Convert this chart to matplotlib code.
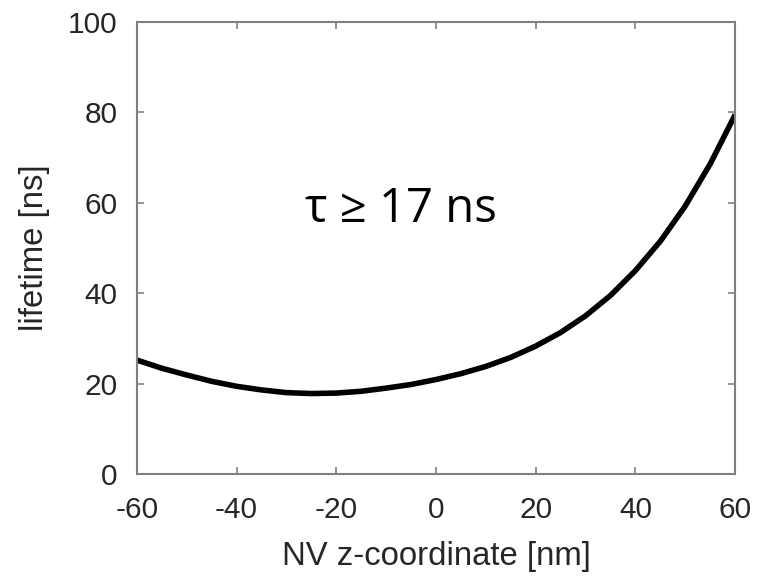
import matplotlib.pyplot as plt
import numpy as np

# NV z-coordinate [nm] and lifetime [ns]
z_nm = [-60, -55, -50, -45, -40, -35, -30, -25, -20, -15, -10, -5, 0,
        5, 10, 15, 20, 25, 30, 35, 40, 45, 50, 55, 60]
lifetime_ns = [25.2, 23.4, 21.9, 20.5, 19.4, 18.6, 18.0, 17.8, 17.9, 18.3,
               19.0, 19.8, 20.9, 22.2, 23.8, 25.8, 28.3, 31.3, 35.0, 39.5,
               45.0, 51.5, 59.3, 68.6, 79.5]

xticks = [-60, -40, -20, 0, 20, 40, 60]
yticks = [0, 20, 40, 60, 80, 100]

plt.rcParams['font.family'] = ['Liberation Sans', 'DejaVu Sans']
plt.rcParams['axes.unicode_minus'] = False

fig = plt.figure(figsize=(7.69, 5.77), dpi=100)
ax = fig.add_axes([0.178, 0.1785, 0.778, 0.7835])

ax.plot(z_nm, lifetime_ns, color='black', linewidth=4.0, solid_capstyle='butt')

ax.set_xlim(-60, 60)
ax.set_ylim(0, 100)
ax.set_xticks(xticks)
ax.set_yticks(yticks)

grey = '#808080'
for s in ax.spines.values():
    s.set_color(grey)
    s.set_linewidth(1.5)
ax.tick_params(direction='in', length=5, width=1.2, color=grey,
               labelsize=21.5, labelcolor='#262626', top=True, right=True,
               labeltop=False, labelright=False)
ax.tick_params(axis='x', pad=16)
ax.tick_params(axis='y', pad=14)

ax.set_xlabel('NV z-coordinate [nm]', fontsize=23.7, color='#262626', va='center')
ax.set_ylabel('lifetime [ns]', fontsize=23.7, color='#262626', va='center')
ax.xaxis.set_label_coords(0.5, -0.183)
ax.yaxis.set_label_coords(-0.171, 0.5)

ax.text(-7.0, 58.5, 'τ ≥ 17 ns', fontsize=34, family=['Open Sans', 'DejaVu Sans'],
        ha='center', va='center', color='black')

fig.savefig('out.png', dpi=100)
